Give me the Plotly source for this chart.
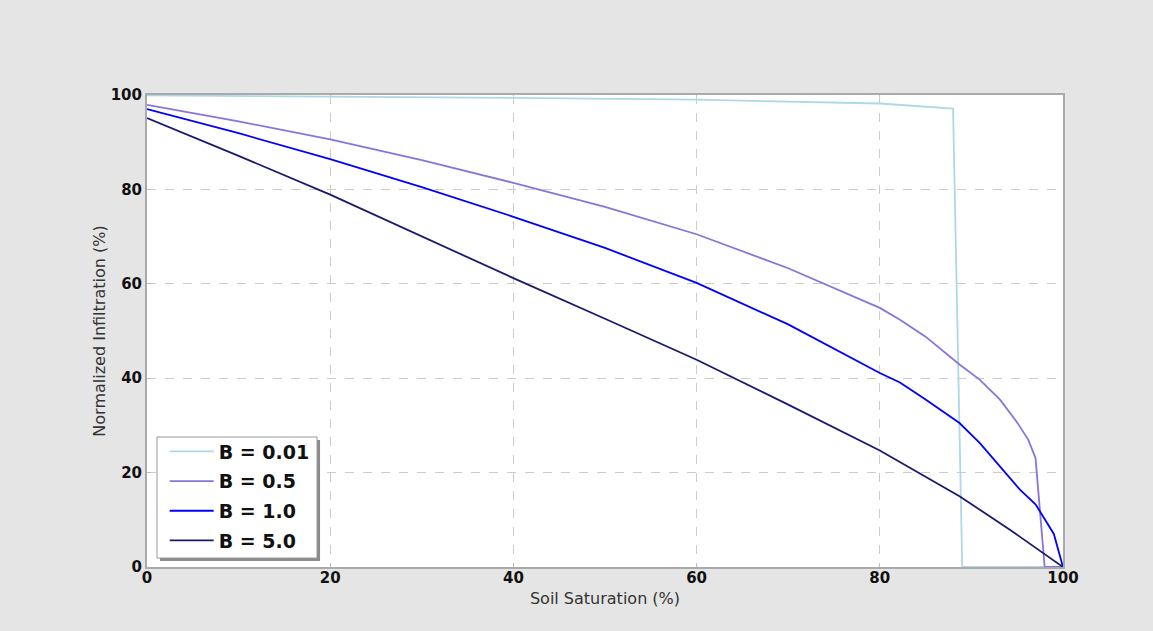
import plotly.graph_objects as go

# Soil saturation (%) and normalized infiltration (%)
x_b001 = [0, 20, 40, 60, 80, 88, 89, 100]
y_b001 = [99.9, 99.7, 99.4, 99.0, 98.2, 97.1, 0, 0]

x_b05 = [0, 10, 20, 30, 40, 50, 60, 70, 80, 82.2, 85, 88.7, 90.9, 93.1, 94.9, 96.2, 97, 98, 100]
y_b05 = [97.9, 94.4, 90.6, 86.2, 81.4, 76.3, 70.5, 63.3, 54.9, 52.4, 48.8, 42.9, 39.7, 35.5, 30.9, 27.0, 23.1, 0, 0]

x_b1 = [0, 10, 20, 30, 40, 50, 60, 70, 80, 82.2, 85, 88.7, 90.9, 93.1, 95.3, 97, 99, 100]
y_b1 = [97.0, 91.9, 86.4, 80.5, 74.2, 67.6, 60.2, 51.4, 41.1, 39.1, 35.5, 30.5, 26.3, 21.3, 16.4, 13.3, 7.0, 0]

x_b5 = [0, 10, 20, 30, 40, 50, 60, 70, 80, 88.7, 94.2, 100]
y_b5 = [95.1, 87.1, 78.9, 70.1, 61.2, 52.6, 43.9, 34.4, 24.7, 15.0, 7.9, 0]

series_names = ["B = 0.01", "B = 0.5", "B = 1.0", "B = 5.0"]
series_colors = ["#add8e6", "#8a73dc", "#0000ff", "#191970"]

x_ticks = [0, 20, 40, 60, 80, 100]
y_ticks = [0, 20, 40, 60, 80, 100]

fig = go.Figure()
for i, (xs, ys, name, col) in enumerate(zip([x_b001, x_b05, x_b1, x_b5],
                                            [y_b001, y_b05, y_b1, y_b5],
                                            series_names, series_colors)):
    fig.add_trace(go.Scatter(x=xs, y=ys, mode="lines", name=name,
                             legendgroup=f"g{i}",
                             line=dict(color=col, width=1.8)))

# legend frame with shadow (paper coords)
fig.add_shape(type="rect", xref="paper", yref="paper",
              x0=0.0142, x1=0.1889, y0=0.0127, y1=0.269,
              fillcolor="#8c8c8c", line=dict(width=0), layer="above")
fig.add_shape(type="rect", xref="paper", yref="paper",
              x0=0.0109, x1=0.1856, y0=0.019, y1=0.2754,
              fillcolor="white", line=dict(color="#999999", width=1), layer="above")

axis_common = dict(
    showgrid=True, gridcolor="#cccccc", griddash="dash", gridwidth=1,
    showline=True, linecolor="#aaaaaa", linewidth=2, mirror=True,
    zeroline=False, ticks="inside", ticklen=4, tickcolor="#bbbbbb",
    tickfont=dict(family="DejaVu Sans", size=15, color="#111111", weight="bold"),
)

fig.update_xaxes(range=[0, 100], tickvals=x_ticks, ticklabelstandoff=-4,
                 title=dict(text="Soil Saturation (%)", standoff=7,
                            font=dict(family="DejaVu Sans", size=16, color="#333333")),
                 **axis_common)
fig.update_yaxes(range=[0, 100], tickvals=y_ticks,
                 title=dict(text="Normalized Infiltration (%)", standoff=1,
                            font=dict(family="DejaVu Sans", size=16, color="#333333")),
                 **axis_common)

fig.update_layout(
    width=1153, height=631,
    paper_bgcolor="#e5e5e5", plot_bgcolor="white",
    margin=dict(l=147, r=90, t=95, b=64),
    showlegend=True,
    legend=dict(x=0.0193, y=0.285, xanchor="left", yanchor="top",
                bgcolor="rgba(0,0,0,0)", borderwidth=0,
                font=dict(family="DejaVu Sans", size=19, color="#111111", weight="bold"),
                tracegroupgap=2, itemwidth=44),
)

fig.write_html("out.html",
               config={"displayModeBar": False},
               post_script="document.body.style.margin='0';"
                           "document.body.style.background='#e5e5e5';"
                           "document.body.style.overflow='hidden';")
